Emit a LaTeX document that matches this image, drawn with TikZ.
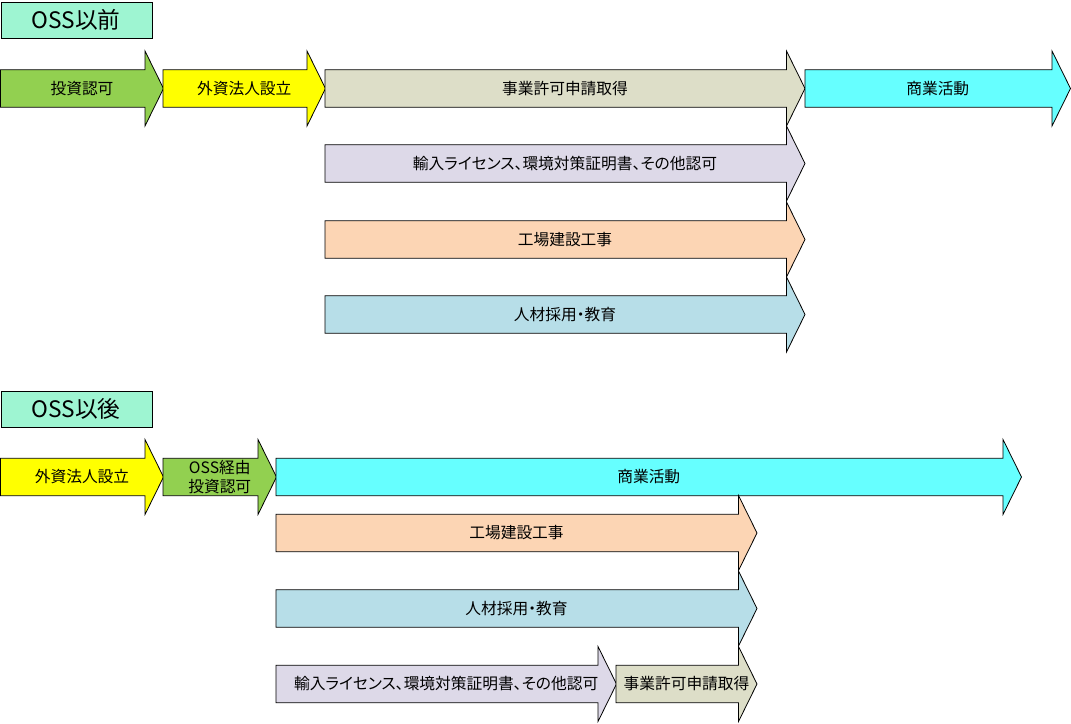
\documentclass[tikz,border=0pt]{standalone}
\usepackage{fontspec}
\setmainfont{Noto Sans CJK JP}[RawFeature=+palt]
\begin{document}
\begin{tikzpicture}[x=0.75pt,y=-0.75pt,
  outl/.style={draw=black,line width=0.6pt,line join=miter},
  lbl/.style={font=\fontsize{11.8pt}{14pt}\selectfont,inner sep=0pt,align=center},
  ttlt/.style={font=\fontsize{17pt}{19pt}\selectfont,inner sep=0pt}]
\definecolor{mint}{HTML}{9EF5D2}
\definecolor{cgreen}{HTML}{92D050}
\definecolor{cyel}{HTML}{FFFF00}
\definecolor{ctan}{HTML}{DDDEC8}
\definecolor{ccyan}{HTML}{66FFFF}
\definecolor{clav}{HTML}{DDD9E8}
\definecolor{cpeach}{HTML}{FCD5B4}
\definecolor{cblue}{HTML}{B7DEE8}
\useasboundingbox (0,0) rectangle (1071,724);
% #1 name, #2 x start, #3 x body end, #4 y centre, #5 colour, #6 text
\newcommand\myarrow[6]{%
  \draw[outl,fill=#5] (#2,#4-18.7) -- (#3,#4-18.7) -- (#3,#4-37.5) -- (#3+18.5,#4) -- (#3,#4+37.5) -- (#3,#4+18.7) -- (#2,#4+18.7) -- cycle;
  \node[lbl] (#1) at ({(#2+#3+18.5)/2},#4) {#6};}
% ---------- before ----------
\draw[outl,fill=mint] (1,2) rectangle (152,38);
\node[ttlt] (t1) at (76,20) {OSS以前};
\myarrow{a1}{0.5}{145}{88.5}{cgreen}{投資認可}
\myarrow{a2}{163}{307}{88.5}{cyel}{外資法人設立}
\myarrow{a3}{325}{786.5}{88.5}{ctan}{事業許可申請取得}
\myarrow{a4}{805}{1052}{88.5}{ccyan}{商業活動}
\myarrow{a5}{325}{786.5}{163.5}{clav}{輸入ライセンス、環境対策証明書、その他認可}
\myarrow{a6}{325}{786.5}{239.5}{cpeach}{工場建設工事}
\myarrow{a7}{325}{786.5}{314.5}{cblue}{人材採用・教育}
% ---------- after ----------
\draw[outl,fill=mint] (1,391) rectangle (152,427);
\node[ttlt] (t2) at (76,409) {OSS以後};
\myarrow{b1}{0.5}{145}{477}{cyel}{外資法人設立}
\myarrow{b2}{163}{258}{477}{cgreen}{OSS経由\\[0pt]投資認可}
\myarrow{b3}{276}{1003}{477}{ccyan}{商業活動}
\myarrow{b4}{276}{738.5}{533}{cpeach}{工場建設工事}
\myarrow{b5}{276}{738.5}{608.5}{cblue}{人材採用・教育}
\myarrow{b6}{276}{598}{684}{clav}{輸入ライセンス、環境対策証明書、その他認可}
\myarrow{b7}{616}{738.5}{684}{ctan}{事業許可申請取得}
\end{tikzpicture}
\end{document}
